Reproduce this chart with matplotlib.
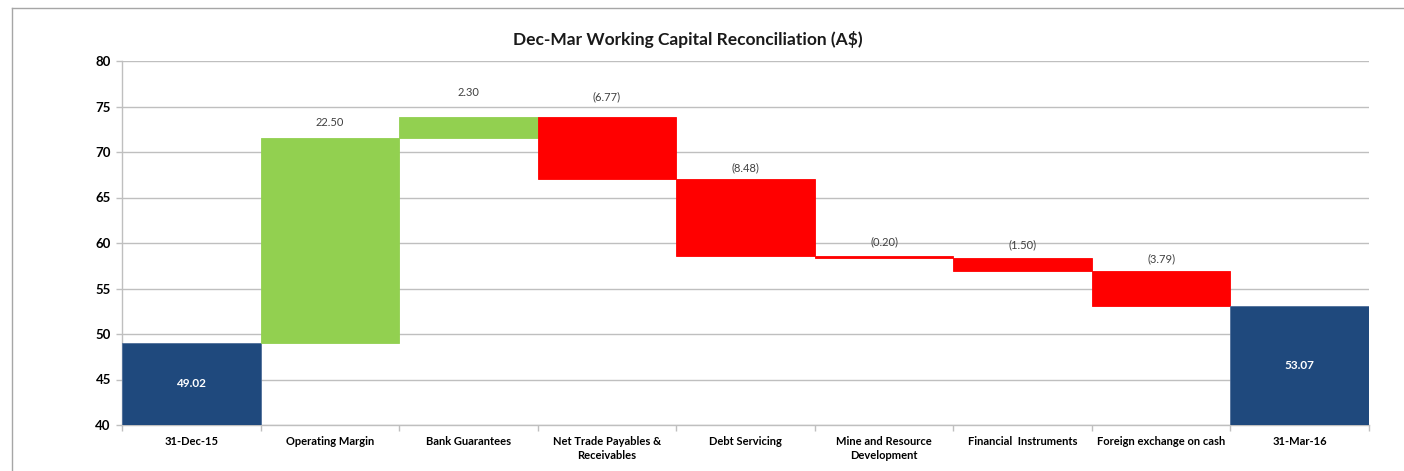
import numpy as np
import matplotlib
matplotlib.use("Agg")
import matplotlib.pyplot as plt
from matplotlib.lines import Line2D

# Data
categories = ["31-Dec-15", "Operating Margin", "Bank Guarantees",
              "Net Trade Payables &\nReceivables", "Debt Servicing",
              "Mine and Resource\nDevelopment", "Financial  Instruments",
              "Foreign exchange on cash", "31-Mar-16"]
opening = 49.02
changes = [22.50, 2.30, -6.77, -8.48, -0.20, -1.50, -3.79]
closing = 53.07

y_ticks = [40, 45, 50, 55, 60, 65, 70, 75, 80]

# label centre offsets above the bars, in points (Excel placed them unevenly)
label_offsets = [11.5, 18, 14.4, 7.9, 10.1, 9.4, 9.4]

plt.rcParams['font.family'] = ['Lato', 'DejaVu Sans']

navy = '#1F497D'
green = '#92D050'
red = '#FF0000'
grid_col = '#BFBFBF'

fig = plt.figure(figsize=(14.04, 4.71), dpi=100)
ax = fig.add_axes([122 / 1404, 1 - 425 / 471, (1369 - 122) / 1404, (425 - 61) / 471])

x = np.arange(len(categories))
base = 40

# opening bar
ax.bar(x[0], opening - base, bottom=base, width=1.0, color=navy, edgecolor='#4F6F9A', lw=0.6, zorder=3)
ax.text(x[0], (opening + base) / 2, f"{opening:.2f}", ha='center', va='center',
        color='white', fontsize=8.5, fontweight='bold', zorder=4)

# changes
level = opening
for i, (c, off) in enumerate(zip(changes, label_offsets)):
    start, end = level, level + c
    lo, hi = min(start, end), max(start, end)
    col = green if c >= 0 else red
    ax.bar(x[i + 1], hi - lo, bottom=lo, width=1.0, color=col, edgecolor=col, lw=0.6, zorder=3)
    txt = f"{c:.2f}" if c >= 0 else f"({abs(c):.2f})"
    ax.annotate(txt, (x[i + 1], hi), xytext=(0, off), textcoords='offset points',
                ha='center', va='center', fontsize=8, color='#404040', zorder=4)
    level = end

# closing bar
ax.bar(x[-1], closing - base, bottom=base, width=1.0, color=navy, edgecolor='#4F6F9A', lw=0.6, zorder=3)
ax.text(x[-1], (closing + base) / 2, f"{closing:.2f}", ha='center', va='center',
        color='white', fontsize=8.5, fontweight='bold', zorder=4)

ax.set_xlim(-0.5, len(categories) - 0.5)
ax.set_ylim(40, 80)
ax.set_yticks(y_ticks)
ax.set_yticklabels([str(t) for t in y_ticks], fontsize=9.5, fontweight='bold')

# category labels at centers, tick marks at boundaries
ax.set_xticks(x)
ax.set_xticklabels(categories, fontsize=8, fontweight='bold', linespacing=1.3)
ax.tick_params(axis='x', length=0, pad=8)
ax.set_xticks(np.arange(-0.5, len(categories), 1.0), minor=True)
ax.tick_params(axis='x', which='minor', length=4, color=grid_col, width=1)
ax.tick_params(axis='y', length=4, color=grid_col, width=1, pad=4)

ax.grid(axis='y', color=grid_col, lw=1, zorder=0)
for s in ['top', 'right']:
    ax.spines[s].set_visible(False)
for s in ['left', 'bottom']:
    ax.spines[s].set_color(grid_col)
    ax.spines[s].set_linewidth(1)

fig.text(0.49, 1 - 40 / 471, "Dec-Mar Working Capital Reconciliation (A$)",
         ha='center', va='center', fontsize=12.5, fontweight='bold', color='#1a1a1a')

# outer chart frame (top and left edges visible)
fig.add_artist(Line2D([12 / 1404, 1.02], [1 - 8 / 471, 1 - 8 / 471], transform=fig.transFigure,
                      color='#A6A6A6', lw=1))
fig.add_artist(Line2D([12 / 1404, 12 / 1404], [-0.02, 1 - 8 / 471], transform=fig.transFigure,
                      color='#A6A6A6', lw=1))

fig.savefig("out.png", dpi=100)
